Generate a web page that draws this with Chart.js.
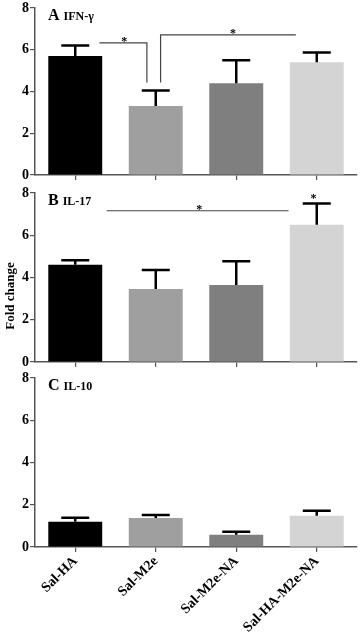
<!DOCTYPE html>
<html>
<head>
<meta charset="utf-8">
<script src="https://cdn.jsdelivr.net/npm/chart.js@4.4.0/dist/chart.umd.min.js"></script>
<style>
  body { margin: 0; background: #fff; width: 360px; height: 634px; overflow: hidden; position: relative; }
  canvas { position: absolute; left: 0; }
</style>
</head>
<body>
<canvas id="chartA" width="360" height="187" style="top:-2px"></canvas>
<canvas id="chartB" width="360" height="189" style="top:183px"></canvas>
<canvas id="chartC" width="360" height="266" style="top:368px"></canvas>
<script>
const groups = ['Sal-HA', 'Sal-M2e', 'Sal-M2e-NA', 'Sal-HA-M2e-NA'];
const barColors = ['#000000', '#9f9f9f', '#7f7f7f', '#d4d4d4'];

const ifnMeans = [5.7, 3.3, 4.4, 5.4];
const ifnErrors = [0.5, 0.75, 1.1, 0.47];

const il17Means = [4.6, 3.45, 3.65, 6.5];
const il17Errors = [0.22, 0.9, 1.12, 1.0];

const il10Means = [1.2, 1.37, 0.58, 1.48];
const il10Errors = [0.18, 0.14, 0.14, 0.24];

const yTicks = [0, 2, 4, 6, 8];

// significance marks: [category index, value] points + star
const ifnBrackets = [
  { path: [[0.3, 6.33], [0.89, 6.33], [0.89, 4.43]], star: [0.61, 6.5] },
  { path: [[1.06, 4.43], [1.06, 6.71], [2.74, 6.71]], star: [1.96, 6.9] }
];
const il17Brackets = [
  { path: [[0.39, 7.16], [2.65, 7.16]], star: [1.54, 7.33] },
  { path: [], star: [2.96, 7.85] }
];

const serif = '"Liberation Serif", "DejaVu Serif", serif';

const errorBars = {
  id: 'errorBars',
  afterDatasetsDraw(chart, args, opts) {
    const ctx = chart.ctx;
    const y = chart.scales.y;
    const meta = chart.getDatasetMeta(0);
    const means = chart.data.datasets[0].data;
    ctx.save();
    ctx.strokeStyle = '#000';
    ctx.lineWidth = 2.5;
    meta.data.forEach((bar, i) => {
      const top = y.getPixelForValue(means[i] + opts.errors[i]);
      ctx.beginPath();
      ctx.moveTo(bar.x, bar.y);
      ctx.lineTo(bar.x, top);
      ctx.moveTo(bar.x - 14, top);
      ctx.lineTo(bar.x + 14, top);
      ctx.stroke();
    });
    ctx.restore();
  }
};

const marks = {
  id: 'marks',
  afterDraw(chart, args, opts) {
    const ctx = chart.ctx;
    const xs = chart.scales.x, ys = chart.scales.y;
    const px = v => xs.getPixelForValue(0) + v * (xs.getPixelForValue(1) - xs.getPixelForValue(0));
    ctx.save();
    (opts.brackets || []).forEach(b => {
      if (b.path.length) {
        ctx.strokeStyle = '#444';
        ctx.lineWidth = 1.2;
        ctx.beginPath();
        b.path.forEach((p, k) => {
          const fn = k ? 'lineTo' : 'moveTo';
          ctx[fn](px(p[0]), ys.getPixelForValue(p[1]));
        });
        ctx.stroke();
      }
      ctx.fillStyle = '#000';
      ctx.font = 'bold 12px ' + serif;
      ctx.textAlign = 'center';
      ctx.textBaseline = 'middle';
      ctx.fillText('*', px(b.star[0]), ys.getPixelForValue(b.star[1]) + 3);
    });
    // panel title
    const a = chart.chartArea;
    ctx.fillStyle = '#000';
    ctx.textAlign = 'left';
    ctx.textBaseline = 'alphabetic';
    ctx.font = 'bold 16px ' + serif;
    ctx.fillText(opts.letter, a.left + 13, a.top + 12);
    const w = ctx.measureText(opts.letter + ' ').width;
    ctx.font = 'bold 12px ' + serif;
    ctx.fillText(opts.title, a.left + 13 + w, a.top + 12);
    if (opts.yTitle) {
      ctx.translate(11, opts.yTitleY);
      ctx.rotate(-Math.PI / 2);
      ctx.textAlign = 'center';
      ctx.textBaseline = 'middle';
      ctx.font = 'bold 13px ' + serif;
      ctx.fillText(opts.yTitle, 0, 0);
    }
    ctx.restore();
  }
};

function makePanel(id, means, errors, letter, title, brackets, showLabels, xHeight, yTitle) {
  return new Chart(document.getElementById(id), {
    type: 'bar',
    data: {
      labels: groups,
      datasets: [{
        data: means,
        backgroundColor: barColors,
        borderWidth: 0,
        barPercentage: 0.67,
        categoryPercentage: 1
      }]
    },
    options: {
      responsive: false,
      animation: false,
      devicePixelRatio: 1,
      layout: { padding: { top: 10, right: 3, left: 0, bottom: 0 } },
      plugins: {
        legend: { display: false },
        tooltip: { enabled: false },
        errorBars: { errors: errors },
        marks: { letter: letter, title: title, brackets: brackets, yTitle: yTitle, yTitleY: 113 }
      },
      scales: {
        x: {
          offset: true,
          grid: { offset: false, drawOnChartArea: false, tickLength: 5, color: '#555', lineWidth: 1.2 },
          border: { color: '#555', width: 1.5 },
          ticks: {
            display: showLabels,
            minRotation: 45,
            maxRotation: 45,
            padding: 1,
            color: '#000',
            font: { family: serif, size: 14, weight: 'bold' }
          },
          afterFit: s => { s.height = xHeight; }
        },
        y: {
          min: 0,
          max: 8,
          afterBuildTicks: s => { s.ticks = yTicks.map(v => ({ value: v })); },
          grid: { drawOnChartArea: false, tickLength: 5, color: '#555', lineWidth: 1.2 },
          border: { color: '#555', width: 1.5 },
          ticks: {
            padding: 1,
            color: '#000',
            font: { family: serif, size: 14, weight: 'bold', lineHeight: 1 }
          },
          afterFit: s => { s.width = 35; }
        }
      }
    },
    plugins: [errorBars, marks]
  });
}

makePanel('chartA', ifnMeans, ifnErrors, 'A', 'IFN-\u03b3', ifnBrackets, false, 10, null);
makePanel('chartB', il17Means, il17Errors, 'B', 'IL-17', il17Brackets, false, 10, 'Fold change');
makePanel('chartC', il10Means, il10Errors, 'C', 'IL-10', [], true, 87, null);
</script>
</body>
</html>
